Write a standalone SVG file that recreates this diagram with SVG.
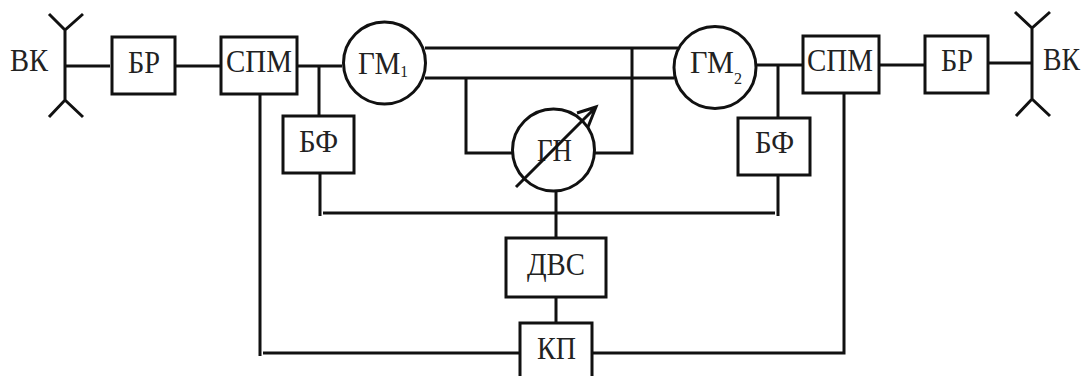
<svg xmlns="http://www.w3.org/2000/svg" width="1083" height="376" viewBox="0 0 1083 376">
<style>
.l{fill:none;stroke:#111;stroke-width:3}
.b{fill:#fff;stroke:#111;stroke-width:3}
text{font-family:"Liberation Serif",serif;font-size:32px;fill:#222}
.s{font-size:17px}
</style>
<rect width="1083" height="376" fill="#fff"/>
<g id="connectors" class="l">
<path d="M65 66H110M176 66H220M298 66H342M319 66V116M320 174V216M323 213H775M778 216V175M778 118V65M757 65H803M260 95V356M263 353H520"/>
<path d="M425 48H678M425 78H674M466 78V153H512M632 48V153H595"/>
<path d="M556 192V238M556 297V323M593 353H844V94M879 65H925M988 63H1032"/>
</g>
<g id="vk-left"><path class="l" d="M65 30V101M49 14L65 30L83 14M49 117L65 100L83 117"/><text x="10" y="71" textLength="38" lengthAdjust="spacingAndGlyphs">ВК</text></g>
<g id="br-left"><rect class="b" x="112" y="37" width="63" height="57"/><text x="128" y="73" textLength="32" lengthAdjust="spacingAndGlyphs">БР</text></g>
<g id="spm-left"><rect class="b" x="221" y="37" width="76" height="57"/><text x="226" y="72" textLength="66" lengthAdjust="spacingAndGlyphs">СПМ</text></g>
<g id="gm1"><circle class="b" cx="384.500" cy="63" r="41"/><text x="358" y="74" textLength="50" lengthAdjust="spacingAndGlyphs">ГМ<tspan class="s" dy="3">1</tspan></text></g>
<g id="bf-left"><rect class="b" x="283" y="116" width="71" height="57"/><text x="299" y="152" textLength="39" lengthAdjust="spacingAndGlyphs">БФ</text></g>
<g id="gn"><circle class="b" cx="553.500" cy="150" r="41"/><text x="537" y="161" textLength="35" lengthAdjust="spacingAndGlyphs">ГН</text><path class="l" d="M516 187L596 107M577 113L596 107L588 127"/></g>
<g id="gm2"><circle class="b" cx="715" cy="67.500" r="41"/><text x="690" y="73" textLength="52" lengthAdjust="spacingAndGlyphs">ГМ<tspan class="s" dy="11">2</tspan></text></g>
<g id="bf-right"><rect class="b" x="738" y="118" width="72" height="57"/><text x="755" y="153" textLength="39" lengthAdjust="spacingAndGlyphs">БФ</text></g>
<g id="spm-right"><rect class="b" x="803" y="36" width="76" height="57"/><text x="807" y="71" textLength="66" lengthAdjust="spacingAndGlyphs">СПМ</text></g>
<g id="br-right"><rect class="b" x="925" y="36" width="63" height="57"/><text x="941" y="71" textLength="32" lengthAdjust="spacingAndGlyphs">БР</text></g>
<g id="vk-right"><path class="l" d="M1032 28V99M1015 12L1032 28L1050 12M1016 116L1032 99L1050 116"/><text x="1043" y="70" textLength="37" lengthAdjust="spacingAndGlyphs">ВК</text></g>
<g id="dvs"><rect class="b" x="506" y="238" width="100" height="59"/><text x="527" y="275" textLength="58" lengthAdjust="spacingAndGlyphs">ДВС</text></g>
<g id="kp"><rect class="b" x="520" y="323" width="72" height="60"/><text x="537" y="359" textLength="39" lengthAdjust="spacingAndGlyphs">КП</text></g>
</svg>
